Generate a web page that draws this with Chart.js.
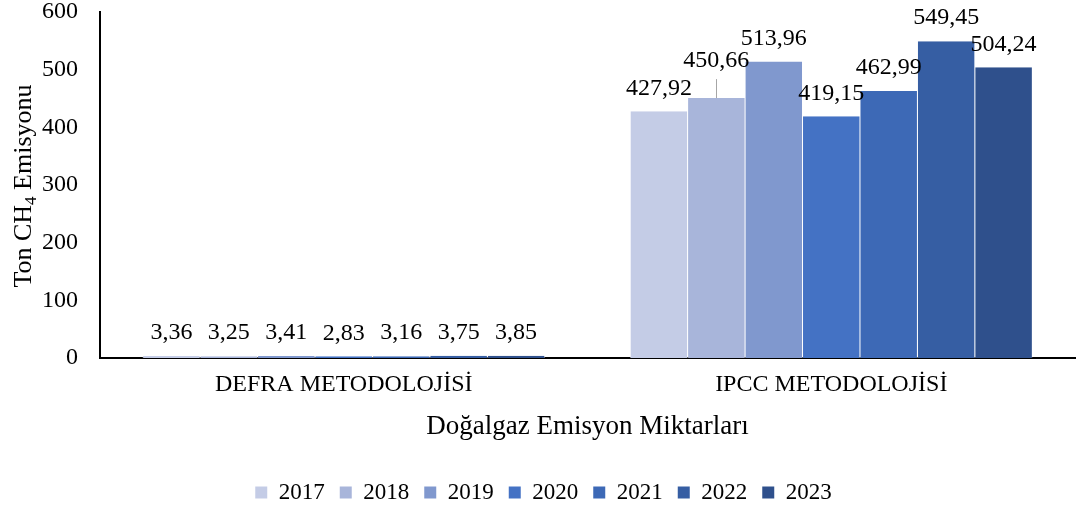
<!DOCTYPE html>
<html>
<head>
<meta charset="utf-8">
<style>
  html, body { margin: 0; padding: 0; background: #fff; }
  #chart { display: block; }
</style>
</head>
<body>
<canvas id="chart" width="1080" height="508"></canvas>
<script src="https://cdn.jsdelivr.net/npm/chart.js@4.4.0/dist/chart.umd.min.js"></script>
<script>
// --- data ---
const categories = ['DEFRA METODOLOJİSİ', 'IPCC METODOLOJİSİ'];
const years = ['2017', '2018', '2019', '2020', '2021', '2022', '2023'];
const v2017 = [3.36, 427.92];
const v2018 = [3.25, 450.66];
const v2019 = [3.41, 513.96];
const v2020 = [2.83, 419.15];
const v2021 = [3.16, 462.99];
const v2022 = [3.75, 549.45];
const v2023 = [3.85, 504.24];
const yearValues = [v2017, v2018, v2019, v2020, v2021, v2022, v2023];
const yTicks = [0, 100, 200, 300, 400, 500, 600];

const colors = ['#c4cce6', '#a8b5da', '#8098ce', '#4472c4', '#3d69b6', '#365ea3', '#2f508c'];
const FONT = "'Liberation Serif', 'Times New Roman', serif";

// label of 2018 / IPCC sits higher with a leader line
const liftedLabel = { dataset: 1, index: 1 };

function fmt(v) {
    return v.toFixed(2).replace('.', ',');
}

// value labels above bars
const valueLabels = {
    id: 'valueLabels',
    afterDatasetsDraw(chart) {
        const ctx = chart.ctx;
        ctx.save();
        ctx.font = '24px ' + FONT;
        ctx.fillStyle = '#000';
        ctx.textAlign = 'center';
        ctx.textBaseline = 'middle';
        chart.data.datasets.forEach((ds, di) => {
            const meta = chart.getDatasetMeta(di);
            meta.data.forEach((bar, i) => {
                const lifted = di === liftedLabel.dataset && i === liftedLabel.index;
                const y = bar.y - (lifted ? 37 : 23);
                if (lifted) {
                    ctx.strokeStyle = '#a6a6a6';
                    ctx.lineWidth = 1;
                    ctx.beginPath();
                    ctx.moveTo(Math.round(bar.x) + 0.5, y + 18);
                    ctx.lineTo(Math.round(bar.x) + 0.5, bar.y);
                    ctx.stroke();
                }
                ctx.fillText(fmt(ds.data[i]), bar.x, y);
            });
        });
        ctx.restore();
    }
};

// y axis title with subscript
const yTitle = {
    id: 'yTitle',
    afterDraw(chart) {
        const ctx = chart.ctx;
        const parts = [['Ton CH', 26, 0], ['4', 17, 5], [' Emisyonu', 26, 0]];
        ctx.save();
        ctx.translate(31, 186);
        ctx.rotate(-Math.PI / 2);
        ctx.fillStyle = '#000';
        ctx.textBaseline = 'alphabetic';
        let total = 0;
        parts.forEach(p => { ctx.font = p[1] + 'px ' + FONT; total += ctx.measureText(p[0]).width; });
        let x = -total / 2;
        parts.forEach(p => {
            ctx.font = p[1] + 'px ' + FONT;
            ctx.fillText(p[0], x, p[2]);
            x += ctx.measureText(p[0]).width;
        });
        ctx.restore();
    }
};

// nudge the legend row to where the reference has it
const legendShift = {
    id: 'legendShift',
    afterLayout(chart) {
        const lg = chart.legend;
        const h = lg.bottom - lg.top;
        lg.top = 466;
        lg.bottom = 466 + h;
        lg.left += 6;
        lg.right += 6;
    }
};

const datasets = years.map((yr, i) => ({
    label: yr,
    data: yearValues[i],
    backgroundColor: colors[i],
    borderColor: '#ffffff',
    borderWidth: { left: 0.5, right: 0.5, top: 0, bottom: 0 },
    barPercentage: 1,
    categoryPercentage: 0.825
}));

new Chart(document.getElementById('chart'), {
    type: 'bar',
    data: { labels: categories, datasets: datasets },
    options: {
        responsive: false,
        animation: false,
        layout: { padding: { top: 12, right: 5, left: 0, bottom: 0 } },
        plugins: {
            tooltip: { enabled: false },
            legend: {
                position: 'bottom',
                labels: {
                    color: '#000',
                    font: { family: FONT, size: 23 },
                    boxWidth: 12,
                    boxHeight: 12,
                    padding: 15,
                    generateLabels(chart) {
                        return chart.data.datasets.map((ds, i) => ({
                            text: ds.label,
                            fillStyle: ds.backgroundColor,
                            strokeStyle: ds.backgroundColor,
                            lineWidth: 0,
                            datasetIndex: i,
                            hidden: false
                        }));
                    }
                }
            }
        },
        scales: {
            x: {
                grid: { display: false, drawTicks: false },
                border: { color: '#000', width: 2 },
                ticks: { color: '#000', font: { family: FONT, size: 24 }, padding: 12 },
                title: {
                    display: true,
                    text: 'Doğalgaz Emisyon Miktarları',
                    color: '#000',
                    font: { family: FONT, size: 27 },
                    padding: { top: 8, bottom: 17 }
                },
                afterFit(scale) {
                    scale.height = 508 - 358 - scale.chart.legend.height;
                    scale.paddingLeft = 0;
                    scale.paddingRight = 0;
                }
            },
            y: {
                min: 0,
                max: 600,
                grid: { display: false, drawTicks: false },
                border: { color: '#000', width: 2 },
                ticks: {
                    color: '#000',
                    font: { family: FONT, size: 24 },
                    padding: 22,
                    stepSize: 100,
                    callback: (v) => yTicks.includes(v) ? String(v) : ''
                },
                afterFit(scale) {
                    scale.width = 100;
                    scale.paddingTop = 0;
                    scale.paddingBottom = 0;
                }
            }
        }
    },
    plugins: [valueLabels, yTitle, legendShift]
});
</script>
</body>
</html>
